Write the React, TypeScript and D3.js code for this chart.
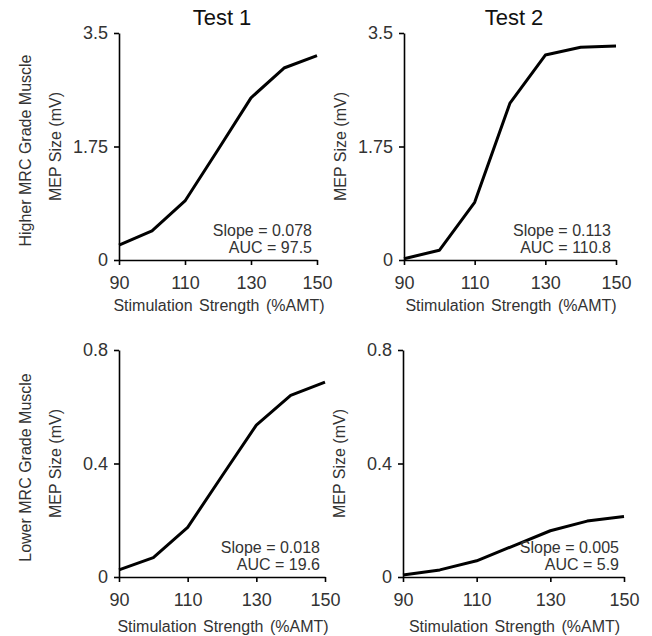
import { useEffect, useRef } from "react";
import * as d3 from "d3";

// stimulation strength (%AMT)
const strengths = [90, 100, 110, 120, 130, 140, 150];

// MEP size (mV)
const higherTest1 = [0.23, 0.45, 0.91, 1.7, 2.5, 2.96, 3.15];
const higherTest2 = [0.02, 0.15, 0.89, 2.42, 3.16, 3.28, 3.3];
const lowerTest1 = [0.025, 0.068, 0.175, 0.356, 0.535, 0.64, 0.687];
const lowerTest2 = [0.007, 0.025, 0.057, 0.11, 0.163, 0.197, 0.213];

const xTicks = [90, 110, 130, 150];
const higherTicks = [0, 1.75, 3.5];
const lowerTicks = [0, 0.4, 0.8];

const slopes = ["0.078", "0.113", "0.018", "0.005"];
const aucs = ["97.5", "110.8", "19.6", "5.9"];

const titles = ["Test 1", "Test 2"];
const rowLabels = ["Higher MRC Grade Muscle", "Lower MRC Grade Muscle"];

const FONT = "'Liberation Sans', Arial, sans-serif";
const TEXT = "#333";

const App = () => {
  const svgRef = useRef(null);

  useEffect(() => {
    const svg = d3.select(svgRef.current);
    svg.selectAll("*").remove();

    const panels = [
      { values: higherTest1, ticks: higherTicks, max: 3.5, left: 119, right: 317, top: 33, bottom: 260, lab: 51 },
      { values: higherTest2, ticks: higherTicks, max: 3.5, left: 404, right: 616, top: 33, bottom: 260, lab: 51 },
      { values: lowerTest1, ticks: lowerTicks, max: 0.8, left: 119, right: 325, top: 350, bottom: 577, lab: 55 },
      { values: lowerTest2, ticks: lowerTicks, max: 0.8, left: 403, right: 624, top: 350, bottom: 577, lab: 55 },
    ];

    panels.forEach((p, i) => {
      const x = d3.scaleLinear().domain([90, 150]).range([p.left, p.right]);
      const y = d3.scaleLinear().domain([0, p.max]).range([p.bottom, p.top]);

      const g = svg.append("g");

      const xAxis = g
        .append("g")
        .attr("transform", `translate(0,${p.bottom})`)
        .call(
          d3
            .axisBottom(x)
            .tickValues(xTicks)
            .tickSize(5)
            .tickSizeOuter(0)
            .tickPadding(11)
            .tickFormat(d3.format("d"))
        );

      const yAxis = g
        .append("g")
        .attr("transform", `translate(${p.left},0)`)
        .call(
          d3
            .axisLeft(y)
            .tickValues(p.ticks)
            .tickSize(5)
            .tickSizeOuter(0)
            .tickPadding(6)
            .tickFormat((d) => String(d))
        );

      [xAxis, yAxis].forEach((a) => {
        a.select(".domain").attr("stroke", "#000").attr("stroke-width", 1.6);
        a.selectAll(".tick line").attr("stroke", "#000").attr("stroke-width", 1.6);
        a.selectAll(".tick text")
          .attr("fill", TEXT)
          .style("font-family", FONT)
          .style("font-size", "18px");
      });

      const line = d3
        .line()
        .x((d, j) => x(strengths[j]))
        .y((d) => y(d));

      g.append("path")
        .datum(p.values)
        .attr("fill", "none")
        .attr("stroke", "#000")
        .attr("stroke-width", 3)
        .attr("stroke-linejoin", "round")
        .attr("d", line);

      // slope / AUC note
      const note = g
        .append("text")
        .attr("text-anchor", "end")
        .attr("fill", TEXT)
        .style("font-family", FONT)
        .style("font-size", "16px");
      note
        .append("tspan")
        .attr("x", p.right - 5)
        .attr("y", p.bottom - 24)
        .text(`Slope = ${slopes[i]}`);
      note
        .append("tspan")
        .attr("x", p.right - 5)
        .attr("y", p.bottom - 7)
        .text(`AUC = ${aucs[i]}`);

      // x axis title
      g.append("text")
        .attr("x", (p.left + p.right) / 2 + 1)
        .attr("y", p.bottom + p.lab)
        .attr("text-anchor", "middle")
        .attr("fill", TEXT)
        .attr("word-spacing", 2)
        .style("font-family", FONT)
        .style("font-size", "16px")
        .text("Stimulation Strength (%AMT)");

      // y axis title
      const mid = (p.top + p.bottom) / 2;
      const yx = p.left - 58;
      g.append("text")
        .attr("transform", `translate(${yx},${mid}) rotate(-90)`)
        .attr("text-anchor", "middle")
        .attr("fill", TEXT)
        .style("font-family", FONT)
        .style("font-size", "16px")
        .text("MEP Size (mV)");

      if (i < 2) {
        g.append("text")
          .attr("x", (p.left + p.right) / 2 + 4)
          .attr("y", 25)
          .attr("text-anchor", "middle")
          .attr("fill", "#111")
          .style("font-family", FONT)
          .style("font-size", "22px")
          .text(titles[i]);
      }

      if (i % 2 === 0) {
        g.append("text")
          .attr("transform", `translate(31,${mid + 4}) rotate(-90)`)
          .attr("text-anchor", "middle")
          .attr("fill", TEXT)
          .style("font-family", FONT)
          .style("font-size", "16px")
          .text(rowLabels[i / 2]);
      }
    });
  }, []);

  return (
    <svg
      ref={svgRef}
      width={652}
      height={636}
      style={{ position: "absolute", left: 0, top: 0, background: "#fff" }}
    />
  );
};

export default App;
